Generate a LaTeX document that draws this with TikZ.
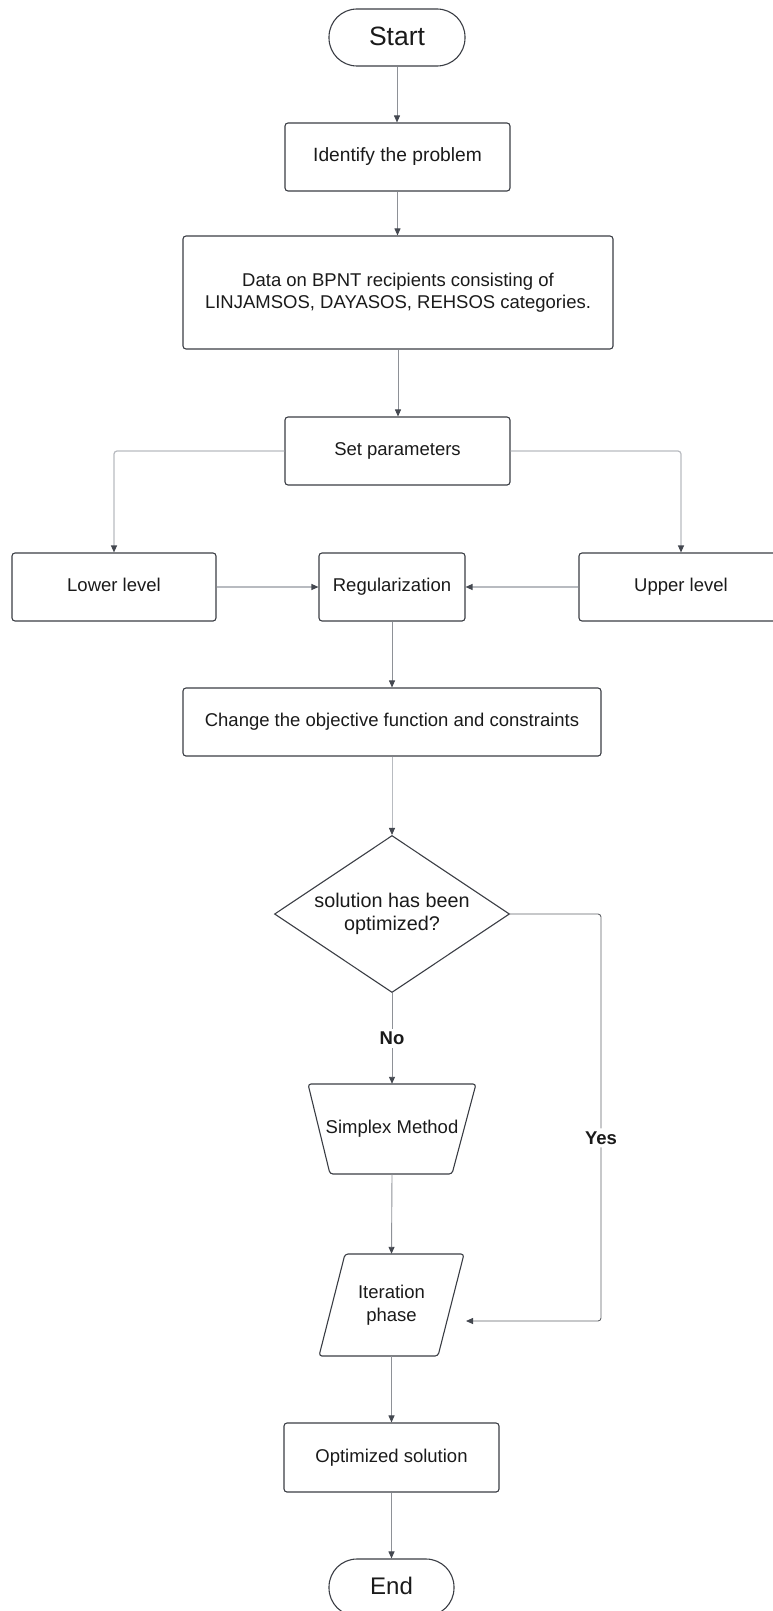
\documentclass[tikz,border=0pt]{standalone}
\usepackage{fontspec}
\setmainfont{Liberation Sans}
\usetikzlibrary{arrows.meta,shapes.geometric}
\definecolor{boxc}{HTML}{3A3D44}
\definecolor{linec}{HTML}{8E9197}
\definecolor{linel}{HTML}{B8BBC0}
\definecolor{tipc}{HTML}{444850}
\definecolor{txtc}{HTML}{1A1A1A}
\begin{document}
\begin{tikzpicture}[x=1pt,y=-1pt,
  txt/.style={font=\fontsize{18.5}{22.5}\selectfont, text=txtc, align=center},
  box/.style={txt, draw=boxc, line width=1.1pt, rounded corners=3pt, inner sep=0pt},
  term/.style={draw=boxc, line width=1.1pt, rounded corners=28pt, inner sep=0pt,
    font=\fontsize{24}{28}\selectfont, text=txtc, minimum height=57pt},
  conn/.style={draw=linec, line width=0.9pt, -{Triangle[length=7pt,width=6pt,fill=tipc,color=tipc]}},
  connl/.style={conn, draw=linel, line width=1.2pt, rounded corners=3pt},
  lbl/.style={font=\fontsize{18.5}{22}\selectfont\bfseries, text=txtc, fill=white, inner sep=3pt}
]
\useasboundingbox (0,0) rectangle (772,1611);

% nodes
\node[term, minimum width=136pt, font=\fontsize{26.5}{30}\selectfont] (start) at (397,37.5) {\raisebox{3pt}{Start}};
\node[box, minimum width=225pt, minimum height=68pt, font=\fontsize{19.2}{23}\selectfont] (ident) at (397.5,157) {Identify the problem};
\node[box, minimum width=430pt, minimum height=113pt] (data) at (398,292.5) {Data on BPNT recipients consisting of\\LINJAMSOS, DAYASOS, REHSOS categories.};
\node[box, minimum width=225pt, minimum height=68pt] (setp) at (397.5,451) {\raisebox{3pt}{Set parameters}};
\node[box, minimum width=204pt, minimum height=68pt] (lower) at (114,587) {\raisebox{5pt}{Lower level}};
\node[box, minimum width=146pt, minimum height=68pt] (reg) at (392,587) {Regularization};
\node[box, minimum width=204pt, minimum height=68pt] (upper) at (681,587) {\raisebox{5pt}{Upper level}};
\node[box, minimum width=418pt, minimum height=68pt] (change) at (392,722) {Change the objective function and constraints};
\node[txt, draw=boxc, line width=1.1pt, shape=diamond, aspect=1.5, inner sep=0pt,
  minimum width=235pt, minimum height=157pt, font=\fontsize{19.8}{23}\selectfont] (dec) at (392,914) {solution has been\\optimized?};

% simplex trapezoid
\node[txt, minimum width=168pt, minimum height=90pt, inner sep=0pt] (simplex) at (392,1129) {Simplex Method};
\draw[draw=boxc, line width=1.1pt, rounded corners=3pt]
  (308,1084) -- (476,1084) -- (452,1174) -- (330,1174) -- cycle;

% iteration parallelogram
\node[txt, minimum width=145pt, minimum height=102pt, inner sep=0pt] (iter) at (391.5,1305) {Iteration\\phase};
\draw[draw=boxc, line width=1.1pt, rounded corners=3pt]
  (345,1254) -- (464,1254) -- (438,1356) -- (319,1356) -- cycle;

\node[box, minimum width=215pt, minimum height=69pt] (opt) at (391.5,1457.5) {Optimized solution};
\node[term, minimum width=125pt] (endn) at (391.5,1587.5) {\raisebox{4pt}{End}};

% connectors
\draw[conn] (start.south) -- (start.south |- ident.north);
\draw[conn] (ident.south) -- (ident.south |- data.north);
\draw[conn] (data.south) -- (data.south |- setp.north);
\draw[connl] (setp.west) -| (lower.north);
\draw[connl] (setp.east) -| (upper.north);
\draw[connl] (lower.east) -- (reg.west);
\draw[connl] (upper.west) -- (reg.east);
\draw[conn] (reg.south) -- (reg.south |- change.north);
\draw[conn, draw=linel] (change.south) -- (dec.north);
\draw[conn] (dec.south) -- node[lbl] {No} (simplex.north);
\coordinate (yesend) at (466,1321);
\draw[conn, draw=boxc!80, rounded corners=3pt] (dec.east) -- (601,914) -- node[lbl, pos=0.55] {Yes} (601,1321) -- (yesend);
\draw[conn] (simplex.south) -- (iter.north);
\draw[conn] (iter.south) -- (iter.south |- opt.north);
\draw[conn] (opt.south) -- (opt.south |- endn.north);
\end{tikzpicture}
\end{document}
